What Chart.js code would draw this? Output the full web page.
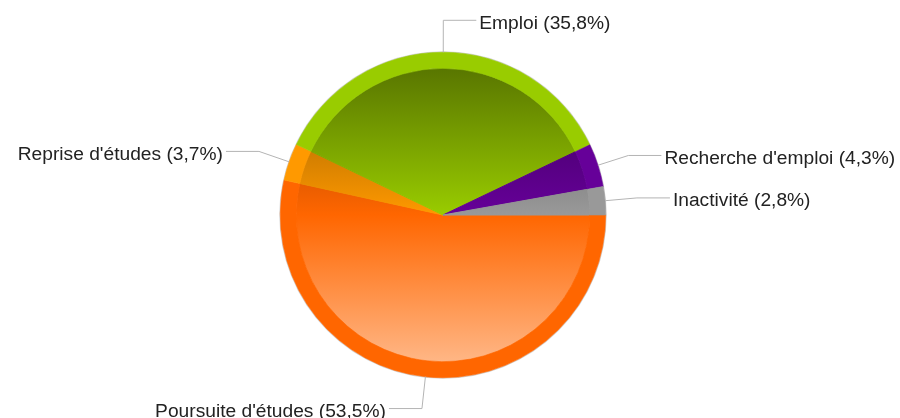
<!DOCTYPE html>
<html>
<head>
<meta charset="utf-8">
<script src="https://cdn.jsdelivr.net/npm/chart.js@4.4.0/dist/chart.umd.min.js"></script>
<style>
html,body{margin:0;padding:0;background:#fff;}
#wrap{width:900px;height:418px;}
</style>
</head>
<body>
<div id="wrap"><canvas id="c" width="900" height="418"></canvas></div>
<script>
const categories = ["Poursuite d'études", "Reprise d'études", "Emploi", "Recherche d'emploi", "Inactivité"];
const values = [53.5, 3.7, 35.8, 4.3, 2.8];
const baseColors = ["#ff6600", "#ff9900", "#99cc00", "#660099", "#999999"];

const RIM_W = 16, INNER_W = 146.5;

function hexToRgb(h){const n=parseInt(h.slice(1),16);return [(n>>16)&255,(n>>8)&255,n&255];}
function rgb(a){return `rgb(${a.map(v=>Math.round(Math.max(0,Math.min(255,v)))).join(',')})`;}
function dark(c,f){return c.map(v=>v*f);}
function light(c,f){return c.map(v=>v+(255-v)*f);}

function innerGradient(ctx){
  const chart = ctx.chart;
  const ca = chart.chartArea;
  const base = hexToRgb(baseColors[ctx.dataIndex]);
  if(!ca) return rgb(base);
  const cy = (ca.top+ca.bottom)/2;
  const R = (Math.min(ca.right-ca.left, ca.bottom-ca.top)-1)/2;
  const rin = R*INNER_W/(RIM_W+INNER_W);
  const g = chart.ctx.createLinearGradient(0, cy-rin, 0, cy+rin);
  g.addColorStop(0, rgb(dark(base,0.58)));
  g.addColorStop(0.5, rgb(base));
  g.addColorStop(1, rgb(light(base,0.52)));
  return g;
}

const outlinePlugin = {
  id: 'outline',
  beforeDatasetsDraw(chart){
    const arc = chart.getDatasetMeta(0).data[0];
    if(!arc) return;
    const p = arc.getProps(['x','y','outerRadius'], true);
    const ctx = chart.ctx;
    ctx.save();
    ctx.strokeStyle = 'rgba(0,0,0,0.18)';
    ctx.lineWidth = 1.2;
    ctx.beginPath();
    ctx.arc(p.x, p.y, p.outerRadius + 0.4, 0, Math.PI*2);
    ctx.stroke();
    ctx.restore();
  }
};

const labelPlugin = {
  id: 'leaderLabels',
  afterDraw(chart){
    const meta = chart.getDatasetMeta(0);
    const ctx = chart.ctx;
    ctx.save();
    ctx.font = '19.2px "Liberation Sans", Arial, sans-serif';
    ctx.textBaseline = 'alphabetic';
    meta.data.forEach((arc, i) => {
      const p = arc.getProps(['x','y','startAngle','endAngle','outerRadius'], true);
      const mid = (p.startAngle + p.endAngle)/2;
      const cx = Math.cos(mid), sy = Math.sin(mid);
      const ax = p.x + cx*p.outerRadius, ay = p.y + sy*p.outerRadius;
      const ex = ax + cx*32, ey = ay + sy*32;
      const right = cx >= 0;
      const hx = ex + (right ? 33 : -33);
      ctx.strokeStyle = '#b4b4b4';
      ctx.lineWidth = 1;
      ctx.beginPath();
      ctx.moveTo(ax, ay);
      ctx.lineTo(ex, ey);
      ctx.lineTo(hx, ey);
      ctx.stroke();
      const txt = `${categories[i]} (${String(values[i]).replace('.', ',')}%)`;
      ctx.fillStyle = '#222222';
      ctx.textAlign = right ? 'left' : 'right';
      ctx.fillText(txt, hx + (right ? 3 : -3), ey + 8.5);
    });
    ctx.restore();
  }
};

new Chart(document.getElementById('c'), {
  type: 'doughnut',
  data: {
    labels: categories,
    datasets: [
      { data: values, backgroundColor: baseColors, borderColor: baseColors, borderWidth: 0.6, weight: RIM_W },
      { data: values, backgroundColor: innerGradient, borderColor: innerGradient, borderWidth: 1, weight: INNER_W }
    ]
  },
  options: {
    responsive: false,
    animation: false,
    cutout: 0,
    rotation: 90,
    hoverOffset: 0,
    layout: { padding: { top: 52, bottom: 40, left: 0, right: 14 } },
    plugins: { legend: { display: false }, tooltip: { enabled: false } }
  },
  plugins: [outlinePlugin, labelPlugin]
});
</script>
</body>
</html>
